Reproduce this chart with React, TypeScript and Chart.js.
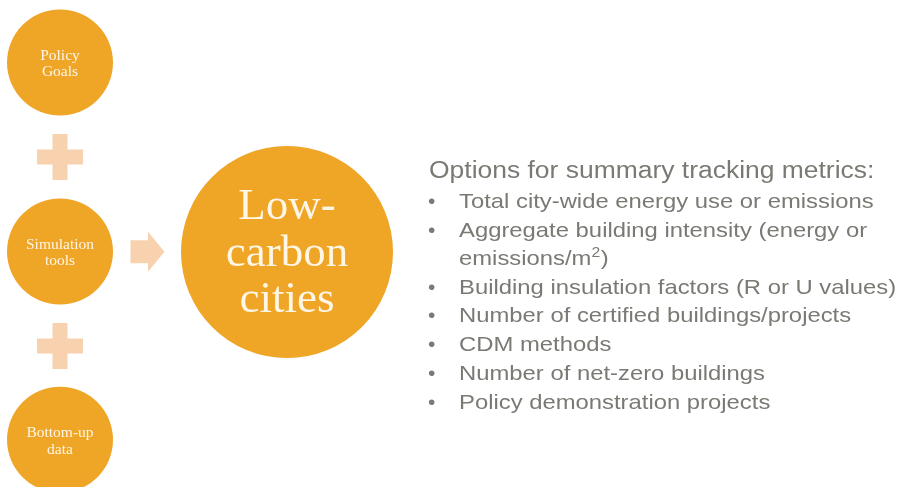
import React, { useEffect, useRef } from "react";
import { Chart, registerables } from "chart.js";

Chart.register(...registerables);

// ---- content ----
const nodeLabels: string[][] = [
  ["Policy", "Goals"],
  ["Simulation", "tools"],
  ["Bottom-up", "data"],
];
const hubLabel: string[] = ["Low-", "carbon", "cities"];
const metricsTitle = "Options for summary tracking metrics:";
const metricItems: string[][] = [
  ["Total city-wide energy use or emissions"],
  ["Aggregate building intensity (energy or", "emissions/m^2)"],
  ["Building insulation factors (R or U values)"],
  ["Number of certified buildings/projects"],
  ["CDM methods"],
  ["Number of net-zero buildings"],
  ["Policy demonstration projects"],
];

// ---- layout (in axis units) ----
const nodeX = 60;
const nodeY = [62.5, 251.5, 439.7];
const nodeR = 53;
const hub = { x: 287, y: 252, r: 106 };
const plusY = [157, 346];
const arrow = { x0: 130.5, xh: 148, x1: 164.5, y: 251.8, body: 11.5, head: 20 };
const textLayout = { titleX: 429, titleY: 178, bulletX: 428, itemX: 459, firstY: 208, para: 28.7, wrap: 28.3 };

const ORANGE = "#EFA526";
const PEACH = "#F8D2AF";
const CREAM = "#FFF6E6";
const GREY = "#7A7A74";

export default function App() {
  const ref = useRef<HTMLCanvasElement | null>(null);

  useEffect(() => {
    const canvas = ref.current;
    if (!canvas) return;

    const overlay = {
      id: "overlay",
      afterDatasetsDraw(chart: any) {
        const ctx: CanvasRenderingContext2D = chart.ctx;
        const sx = chart.scales.x;
        const sy = chart.scales.y;
        const X = (v: number) => sx.getPixelForValue(v);
        const Y = (v: number) => sy.getPixelForValue(v);
        ctx.save();

        // arrow
        ctx.fillStyle = PEACH;
        ctx.beginPath();
        ctx.moveTo(X(arrow.x0), Y(arrow.y - arrow.body));
        ctx.lineTo(X(arrow.xh), Y(arrow.y - arrow.body));
        ctx.lineTo(X(arrow.xh), Y(arrow.y - arrow.head));
        ctx.lineTo(X(arrow.x1), Y(arrow.y));
        ctx.lineTo(X(arrow.xh), Y(arrow.y + arrow.head));
        ctx.lineTo(X(arrow.xh), Y(arrow.y + arrow.body));
        ctx.lineTo(X(arrow.x0), Y(arrow.y + arrow.body));
        ctx.closePath();
        ctx.fill();

        // circle labels
        ctx.fillStyle = CREAM;
        ctx.textAlign = "center";
        ctx.textBaseline = "alphabetic";
        ctx.font = '15.5px "Liberation Serif", "DejaVu Serif", serif';
        nodeLabels.forEach((lines, i) => {
          lines.forEach((t, j) => {
            ctx.fillText(t, X(nodeX), Y(nodeY[i] - 2.5 + j * 16.3));
          });
        });
        ctx.font = '45px "Liberation Serif", "DejaVu Serif", serif';
        hubLabel.forEach((t, j) => {
          ctx.fillText(t, X(hub.x), Y(hub.y - 32.7 + j * 46.2));
        });

        // metrics text
        ctx.textAlign = "left";
        ctx.fillStyle = GREY;
        const drawStretched = (t: string, x: number, y: number, size: number, stretch: number) => {
          ctx.save();
          ctx.translate(X(x), Y(y));
          ctx.scale(stretch, 1);
          const parts = t.split("^");
          ctx.font = `${size}px "Liberation Sans", Arial, sans-serif`;
          if (parts.length === 1) {
            ctx.fillText(t, 0, 0);
          } else {
            ctx.fillText(parts[0], 0, 0);
            let w = ctx.measureText(parts[0]).width;
            const sup = parts[1].charAt(0);
            const rest = parts[1].slice(1);
            ctx.font = `${size * 0.66}px "Liberation Sans", Arial, sans-serif`;
            ctx.fillText(sup, w, -size * 0.36);
            w += ctx.measureText(sup).width + 0.5;
            ctx.font = `${size}px "Liberation Sans", Arial, sans-serif`;
            ctx.fillText(rest, w, 0);
          }
          ctx.restore();
        };
        drawStretched(metricsTitle, textLayout.titleX, textLayout.titleY, 23, 1.15);
        let y = textLayout.firstY;
        metricItems.forEach((lines) => {
          drawStretched("\u2022", textLayout.bulletX, y, 21, 1.0);
          lines.forEach((t, j) => {
            if (j > 0) y += textLayout.wrap;
            drawStretched(t, textLayout.itemX, y, 21, 1.135);
          });
          y += textLayout.para;
        });
        ctx.restore();
      },
    };

    const chart = new Chart(canvas, {
      type: "bubble",
      data: {
        datasets: [
          {
            label: "nodes",
            data: [
              ...nodeY.map((y) => ({ x: nodeX, y, r: nodeR })),
              { x: hub.x, y: hub.y, r: hub.r },
            ],
            backgroundColor: ORANGE,
            borderWidth: 0,
            hoverRadius: 0,
            clip: false as any,
          } as any,
          {
            type: "scatter",
            label: "plus",
            data: plusY.map((y) => ({ x: nodeX, y })),
            pointStyle: "cross",
            pointRadius: 23,
            pointBorderWidth: 15,
            pointBorderColor: PEACH,
            pointBackgroundColor: PEACH,
            borderColor: PEACH,
            borderWidth: 15,
            clip: false as any,
          } as any,
        ],
      },
      options: {
        animation: false,
        responsive: false,
        maintainAspectRatio: false,
        events: [],
        layout: { padding: 0, autoPadding: false },
        plugins: { legend: { display: false }, tooltip: { enabled: false } },
        scales: {
          x: { type: "linear", min: 0, max: 899, display: false },
          y: { type: "linear", min: 0, max: 487, reverse: true, display: false },
        },
      },
      plugins: [overlay],
    });
    return () => chart.destroy();
  }, []);

  return (
    <div style={{ position: "absolute", left: 0, top: 0, width: 899, height: 487, background: "#fff" }}>
      <canvas ref={ref} width={899} height={487} style={{ display: "block" }} />
    </div>
  );
}
